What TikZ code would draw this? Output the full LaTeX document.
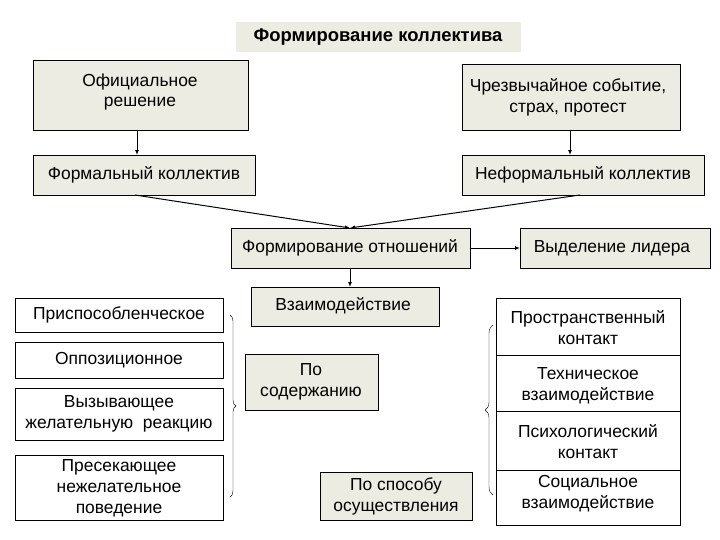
\documentclass[tikz,border=0pt]{standalone}
\usepackage{fontspec}
\setmainfont{Liberation Sans}
\usetikzlibrary{arrows.meta,decorations.pathreplacing}
\definecolor{beige}{HTML}{EDECE2}
\begin{document}
\begin{tikzpicture}[x=1bp,y=-1bp,
  bx/.style={draw=black,fill=beige,line width=0.8pt},
  wb/.style={draw=black,fill=white,line width=0.8pt},
  tx/.style={align=center,inner sep=0pt,font=\fontsize{17.5}{21}\selectfont},
  ar/.style={-{Latex[length=5pt,width=4pt]},line width=1pt}]
\useasboundingbox (0,0) rectangle (720,540);
\fill[beige] (236,22) rectangle (521,52);
\node[tx,font=\bfseries\fontsize{18.5}{21}\selectfont] (t) at (378,37) {Формирование коллектива};
\draw[bx] (33,60) rectangle (248,130); \node[tx] (o) at (140,92) {Официальное\\решение};
\draw[bx] (462,64) rectangle (680,130); \node[tx] (c) at (568,97) {Чрезвычайное событие,\\страх, протест};
\draw[bx] (33,155) rectangle (255,195); \node[tx] (f) at (144,175) {Формальный коллектив};
\draw[bx] (462,155) rectangle (704,195); \node[tx] (n) at (583,175) {Неформальный коллектив};
\draw[bx] (231,228) rectangle (470,268); \node[tx] (r) at (350,248) {Формирование отношений};
\draw[bx] (520,228) rectangle (710,268); \node[tx] (l) at (612,248) {Выделение лидера};
\draw[bx] (251,287) rectangle (439,326); \node[tx] (v) at (343,306) {Взаимодействие};
\draw[bx] (245,354) rectangle (378,410); \node[tx] (s) at (311,382) {По\\содержанию};
\draw[bx] (320,472) rectangle (472,520); \node[tx] (p) at (396,496) {По способу\\осуществления};
\draw[wb] (15,298) rectangle (223,332); \node[tx] (a1) at (119,315) {Приспособленческое};
\draw[wb] (15,342) rectangle (223,378); \node[tx] (a2) at (119,360) {Оппозиционное};
\draw[wb] (15,388) rectangle (223,440); \node[tx] (a3) at (119,414) {Вызывающее\\желательную\ \ реакцию};
\draw[wb] (15,455) rectangle (223,520); \node[tx] (a4) at (119,488) {Пресекающее\\нежелательное\\поведение};
\draw[wb] (496,298) rectangle (680,525);
\draw (496,355) -- (680,355) (496,411) -- (680,411) (496,470) -- (680,470);
\node[tx] (b1) at (588,328) {Пространственный\\контакт};
\node[tx] (b2) at (588,386) {Техническое\\взаимодействие};
\node[tx] (b3) at (588,442) {Психологический\\контакт};
\node[tx] (b4) at (588,494) {Социальное\\взаимодействие};
\coordinate (lb1) at (230,315); \coordinate (lb2) at (230,497);
\draw[decorate,decoration={brace,amplitude=6pt}] (lb1) -- (lb2);
\coordinate (rb1) at (493,495); \coordinate (rb2) at (493,325);
\draw[decorate,decoration={brace,amplitude=8pt}] (rb1) -- (rb2);
\coordinate (o1) at (137,130); \coordinate (f1) at (137,155);
\coordinate (c1) at (570,130); \coordinate (n1) at (570,155);
\coordinate (f2) at (135,195); \coordinate (n2) at (580,195); \coordinate (r1) at (350,228);
\coordinate (r2) at (470,248); \coordinate (l1) at (520,248);
\coordinate (r3) at (350,268); \coordinate (v1) at (350,287);
\draw[ar] (o1) -- (f1);
\draw[ar] (c1) -- (n1);
\draw[ar] (f2) -- (r1);
\draw[ar] (n2) -- (r1);
\draw[ar] (r2) -- (l1);
\draw[ar] (r3) -- (v1);
\end{tikzpicture}
\end{document}
